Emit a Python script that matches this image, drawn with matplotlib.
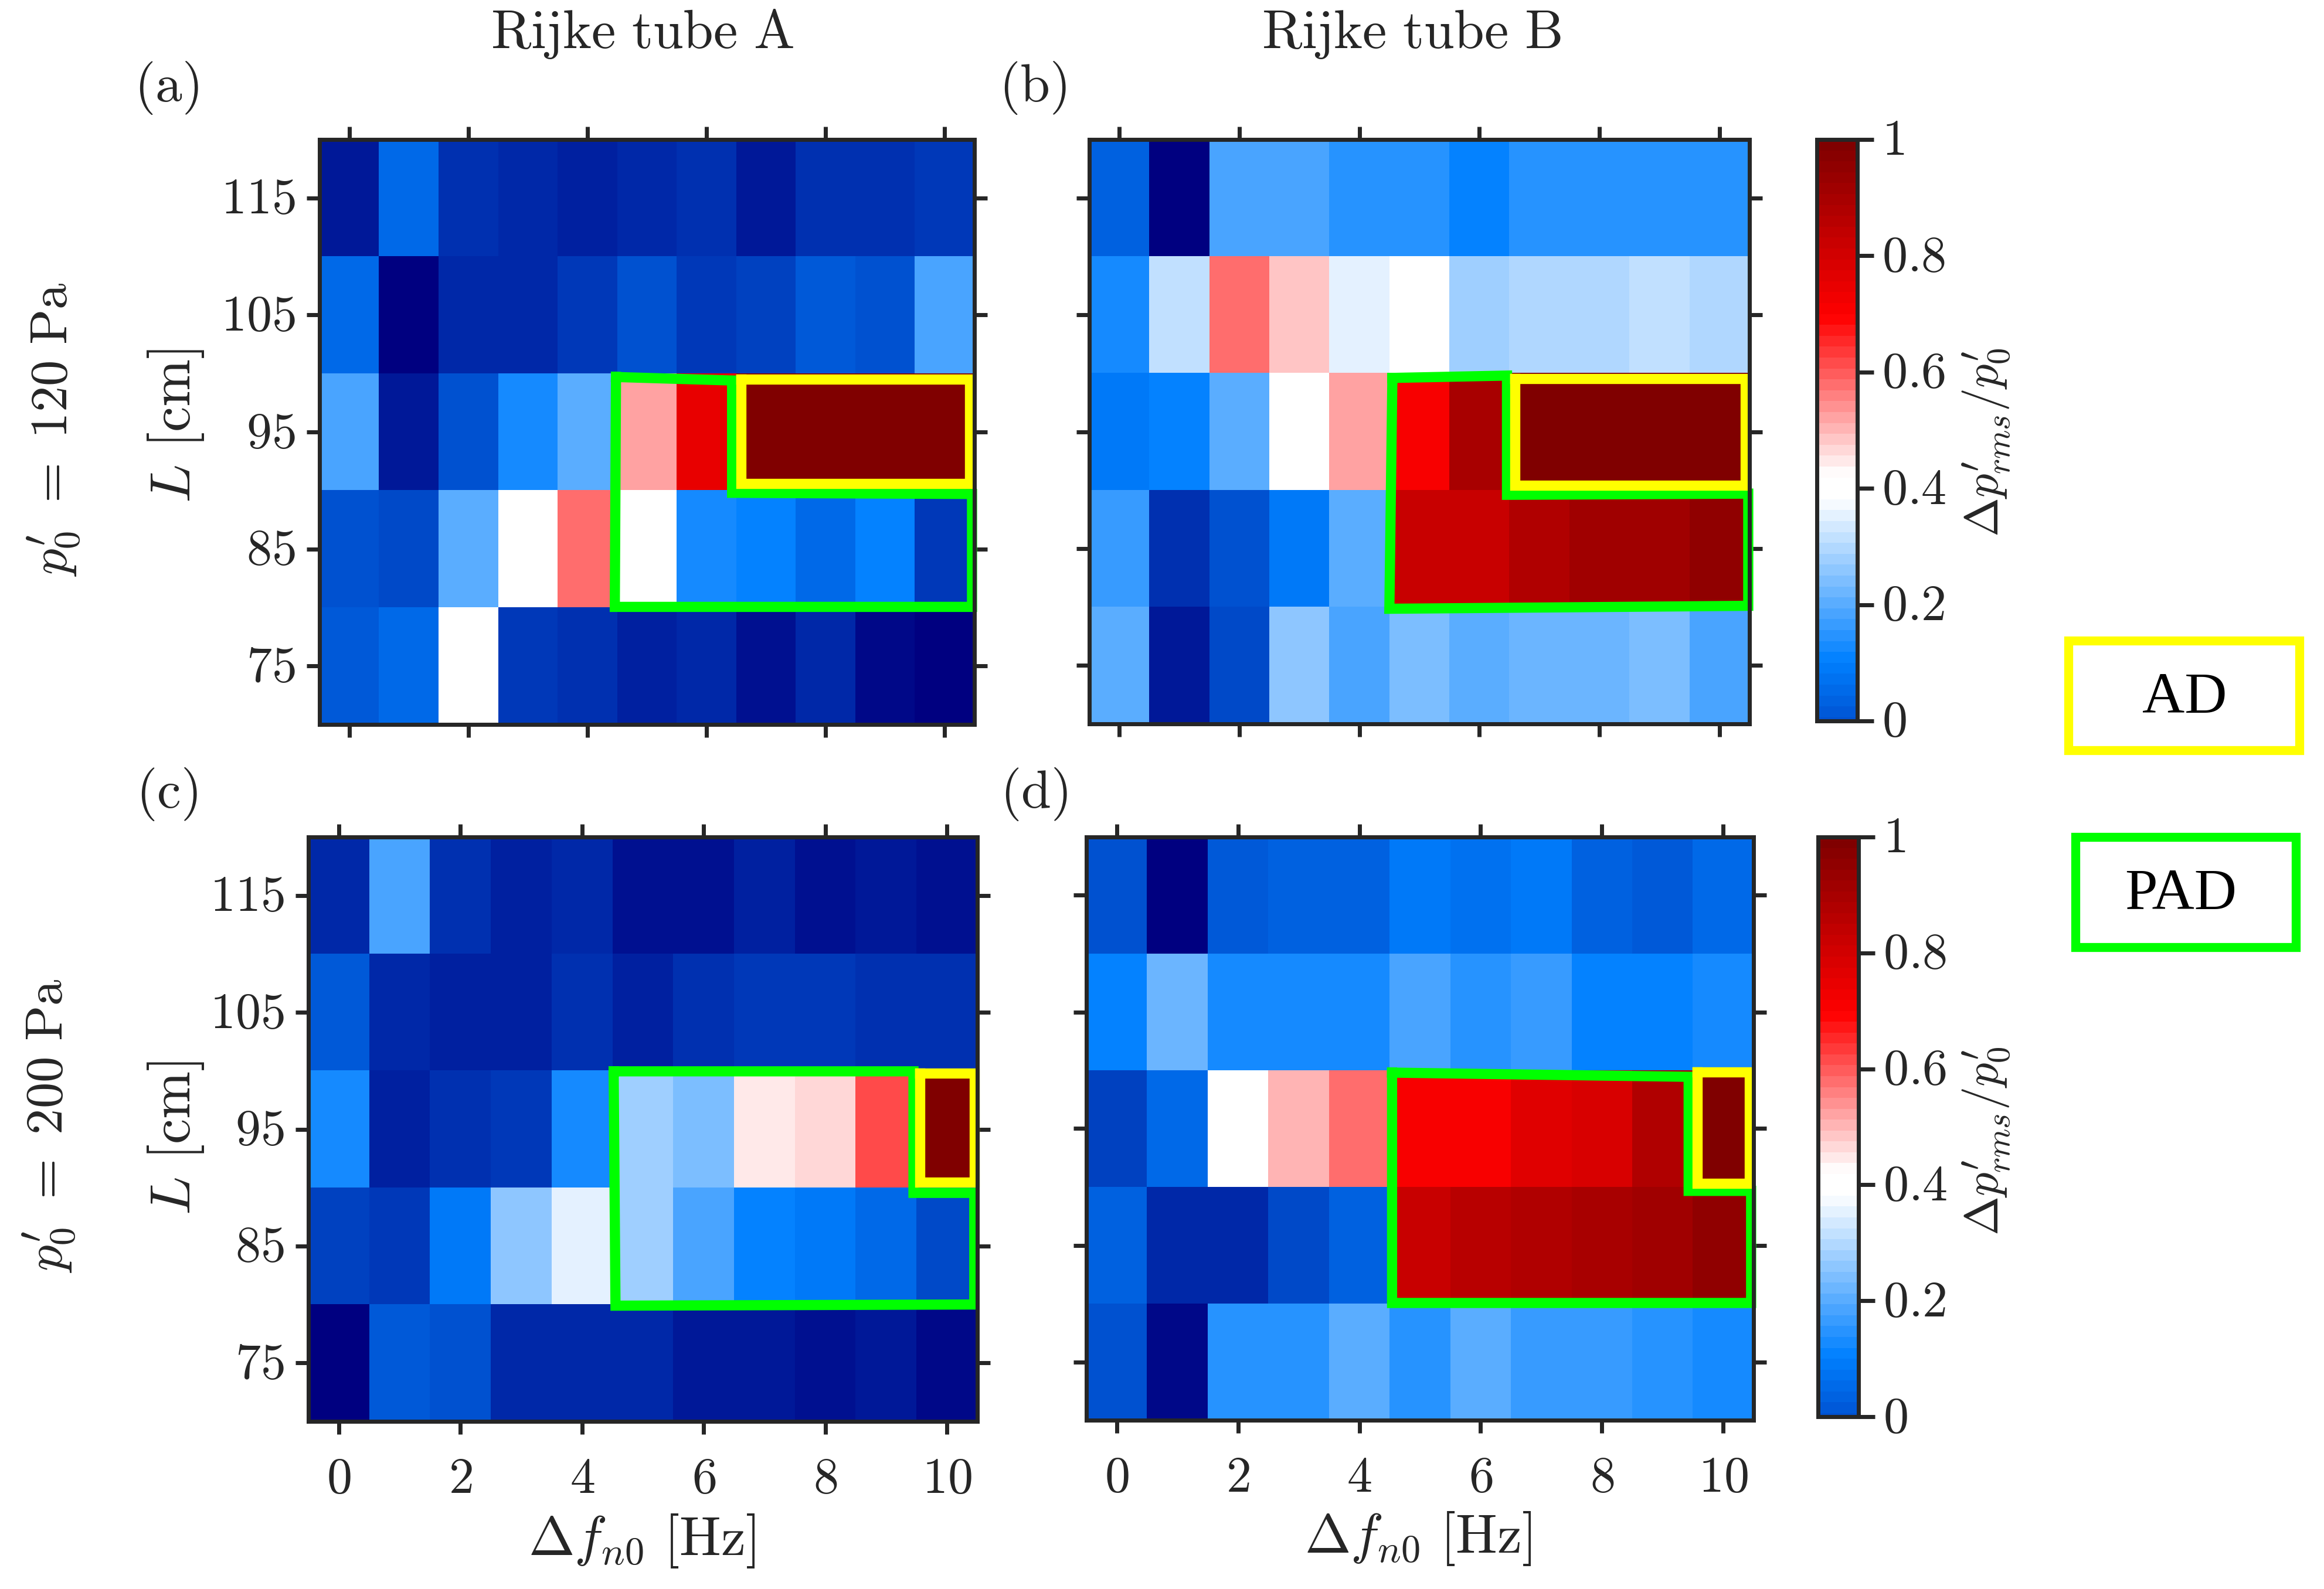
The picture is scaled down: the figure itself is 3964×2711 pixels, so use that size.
import numpy as np
import matplotlib
matplotlib.use('Agg')
import matplotlib.pyplot as plt
from matplotlib.colors import LinearSegmentedColormap
from matplotlib.patches import Rectangle
from matplotlib.transforms import ScaledTranslation

W, H = 3964, 2711
DARK = '#262626'

plt.rcParams['mathtext.fontset'] = 'cm'
plt.rcParams['font.family'] = 'DejaVu Sans'

lengths = [75, 85, 95, 105, 115]
detuning = [0, 1, 2, 3, 4, 5, 6, 7, 8, 9, 10]

# rows listed from L = 115 down to L = 75
amp_a = [
    [-0.14, 0.06, -0.08, -0.10, -0.12, -0.10, -0.07, -0.14, -0.08, -0.08, -0.06],
    [0.06, -0.20, -0.10, -0.10, -0.06, 0.00, -0.06, -0.05, 0.01, 0.00, 0.183],
    [0.183, -0.13, 0.00, 0.13, 0.20, 0.53, 0.75, 1.00, 1.00, 1.00, 1.00],
    [0.00, -0.02, 0.20, 0.40, 0.585, 0.40, 0.13, 0.10, 0.06, 0.10, -0.06],
    [0.01, 0.06, 0.40, -0.06, -0.08, -0.11, -0.10, -0.15, -0.10, -0.17, -0.20],
]
amp_b = [
    [0.03, -0.20, 0.183, 0.183, 0.15, 0.15, 0.105, 0.15, 0.15, 0.15, 0.15],
    [0.13, 0.31, 0.585, 0.478, 0.36, 0.40, 0.277, 0.294, 0.294, 0.31, 0.294],
    [0.09, 0.11, 0.20, 0.40, 0.516, 0.70, 0.89, 1.00, 1.00, 1.00, 1.00],
    [0.17, -0.07, -0.01, 0.09, 0.20, 0.83, 0.83, 0.87, 0.91, 0.91, 0.96],
    [0.20, -0.13, -0.03, 0.255, 0.183, 0.238, 0.20, 0.218, 0.218, 0.238, 0.18],
]
amp_c = [
    [-0.10, 0.183, -0.07, -0.11, -0.10, -0.15, -0.15, -0.12, -0.15, -0.14, -0.15],
    [0.01, -0.10, -0.12, -0.12, -0.08, -0.11, -0.08, -0.06, -0.06, -0.08, -0.08],
    [0.13, -0.12, -0.07, -0.06, 0.135, 0.277, 0.238, 0.445, 0.462, 0.62, 1.00],
    [-0.05, -0.06, 0.09, 0.255, 0.36, 0.277, 0.183, 0.10, 0.09, 0.06, -0.02],
    [-0.20, 0.01, 0.00, -0.10, -0.10, -0.10, -0.14, -0.13, -0.15, -0.13, -0.18],
]
amp_d = [
    [-0.01, -0.20, 0.01, 0.035, 0.035, 0.09, 0.07, 0.09, 0.035, 0.01, 0.045],
    [0.105, 0.218, 0.13, 0.13, 0.13, 0.183, 0.15, 0.165, 0.11, 0.11, 0.13],
    [-0.05, 0.06, 0.40, 0.50, 0.585, 0.70, 0.70, 0.77, 0.79, 0.87, 1.00],
    [0.025, -0.10, -0.10, -0.02, 0.025, 0.82, 0.86, 0.87, 0.90, 0.92, 0.96],
    [-0.01, -0.17, 0.15, 0.15, 0.20, 0.15, 0.20, 0.165, 0.165, 0.15, 0.135],
]

# hand drawn regions, (detuning, length) corners
pad_a = [(4.48, 99.7), (6.43, 99.4), (6.43, 89.8), (10.46, 89.7), (10.46, 80.05), (4.46, 80.05)]
pad_b = [(4.55, 99.6), (6.46, 99.8), (6.46, 89.6), (10.48, 89.7), (10.48, 80.1), (4.5, 79.85)]
pad_c = [(4.52, 99.95), (9.45, 99.95), (9.45, 89.55), (10.45, 89.55), (10.45, 80.0), (4.55, 79.9)]
pad_d = [(4.54, 99.8), (9.43, 99.44), (9.43, 89.66), (10.46, 89.66), (10.46, 80.05), (4.54, 80.05)]
ad_a = [(6.58, 99.5), (10.42, 99.5), (10.42, 90.6), (6.58, 90.6)]
ad_b = [(6.59, 99.55), (10.43, 99.55), (10.43, 90.4), (6.59, 90.4)]
ad_c = [(9.56, 99.8), (10.45, 99.8), (10.45, 90.45), (9.56, 90.45)]
ad_d = [(9.57, 99.85), (10.43, 99.85), (10.43, 90.3), (9.57, 90.3)]

# white plateau around 0.4 as in the original colorbar
cmap = LinearSegmentedColormap.from_list(
    'amp', [(0, '#000080'), (0.25, '#0080ff'), (0.485, '#ffffff'), (0.52, '#ffffff'),
            (0.75, '#ff0000'), (1, '#800000')], N=64)


def px_axes(fig, x0, y0, x1, y1):
    return fig.add_axes([x0 / W, 1 - y1 / H, (x1 - x0) / W, (y1 - y0) / H])


def px_text(fig, x, y, s, size, rotation=0, **kw):
    fig.text(x / W, 1 - y / H, s, fontsize=size, rotation=rotation,
             ha='center', va='center', color=DARK, **kw)


def nudge_labels(ax, fig):
    # mathtext labels sit a little low, move them up by 6 px
    shift = ScaledTranslation(0, 6 / 100, fig.dpi_scale_trans)
    for t in ax.get_yticklabels():
        t.set_transform(t.get_transform() + shift)


def draw_panel(fig, ax, amp, pad, ad, left_labels, bottom_labels):
    im = ax.imshow(amp, cmap=cmap, vmin=-0.2, vmax=1.0, aspect='auto',
                   interpolation='nearest', extent=[-0.5, 10.5, 70, 120])
    ax.set_xticks(detuning[::2])
    ax.set_yticks(lengths)
    ax.tick_params(direction='out', length=16, width=5, color=DARK, labelcolor=DARK,
                   labelsize=62, top=True, right=True, pad=14,
                   labelleft=left_labels, labelbottom=bottom_labels)
    ax.tick_params(axis='x', pad=25)
    ax.xaxis.set_major_formatter(lambda v, pos: f'${v:.0f}$')
    ax.yaxis.set_major_formatter(lambda v, pos: f'${v:.0f}$')
    nudge_labels(ax, fig)
    for sp in ax.spines.values():
        sp.set_linewidth(5)
        sp.set_color(DARK)
    px, py = zip(*(pad + pad[:1]))
    ax.plot(px, py, color='#00ff00', lw=12.5, clip_on=False, solid_joinstyle='miter')
    px, py = zip(*(ad + ad[:1]))
    ax.plot(px, py, color='#ffff00', lw=12.5, clip_on=False, solid_joinstyle='miter')
    ax.set_xlim(-0.5, 10.5)
    ax.set_ylim(70, 120)
    return im


def draw_cbar(fig, im, cax):
    cbar = fig.colorbar(im, cax=cax)
    cbar.ax.set_ylim(0, 1)
    cbar.set_ticks([0, 0.2, 0.4, 0.6, 0.8, 1])
    cbar.set_ticklabels(['$0$', '$0.2$', '$0.4$', '$0.6$', '$0.8$', '$1$'])
    cbar.ax.tick_params(direction='out', length=20, width=5, color=DARK, labelcolor=DARK,
                        labelsize=62, pad=10)
    nudge_labels(cbar.ax, fig)
    cbar.outline.set_linewidth(5)
    cbar.outline.set_edgecolor(DARK)


fig = plt.figure(figsize=(W / 100, H / 100), dpi=100, facecolor='white')

ax_a = px_axes(fig, 545, 238, 1662, 1236)
ax_b = px_axes(fig, 1858, 238, 2984, 1235)
ax_c = px_axes(fig, 526, 1428, 1667, 2425)
ax_d = px_axes(fig, 1853, 1428, 2991, 2423)

im_a = draw_panel(fig, ax_a, amp_a, pad_a, ad_a, True, False)
draw_panel(fig, ax_b, amp_b, pad_b, ad_b, False, False)
im_c = draw_panel(fig, ax_c, amp_c, pad_c, ad_c, True, True)
draw_panel(fig, ax_d, amp_d, pad_d, ad_d, False, True)

draw_cbar(fig, im_a, px_axes(fig, 3099, 238, 3168, 1230))
draw_cbar(fig, im_c, px_axes(fig, 3101, 1428, 3170, 2417))

# text placed by hand
px_text(fig, 1095, 58, r'$\mathrm{Rijke\ tube\ A}$', 67)
px_text(fig, 2407, 58, r'$\mathrm{Rijke\ tube\ B}$', 67)
px_text(fig, 284, 150, r'$\mathrm{(a)}$', 66)
px_text(fig, 1762, 150, r'$\mathrm{(b)}$', 66)
px_text(fig, 284, 1355, r'$\mathrm{(c)}$', 66)
px_text(fig, 1764, 1355, r'$\mathrm{(d)}$', 66)
px_text(fig, 300, 726, r'$L\ [\mathrm{cm}]$', 70, rotation=90)
px_text(fig, 300, 1941, r'$L\ [\mathrm{cm}]$', 70, rotation=90)
px_text(fig, 92, 733, r"$p_0^{\prime}\ =\ 120\ \mathrm{Pa}$", 64, rotation=90)
px_text(fig, 84, 1921, r"$p_0^{\prime}\ =\ 200\ \mathrm{Pa}$", 64, rotation=90)
px_text(fig, 1095, 2629, r'$\Delta f_{n0}\ [\mathrm{Hz}]$', 68)
px_text(fig, 2419, 2625, r'$\Delta f_{n0}\ [\mathrm{Hz}]$', 68)
px_text(fig, 3388, 755, r"$\Delta p_{rms}^{\prime}/p_0^{\prime}$", 58, rotation=90)
px_text(fig, 3388, 1947, r"$\Delta p_{rms}^{\prime}/p_0^{\prime}$", 58, rotation=90)

# legend boxes on the right
fig.add_artist(Rectangle((3528 / W, 1 - 1280 / H), 394 / W, 187 / H, transform=fig.transFigure,
                         fill=False, edgecolor='#ffff00', lw=11))
fig.add_artist(Rectangle((3540 / W, 1 - 1616 / H), 376 / W, 188 / H, transform=fig.transFigure,
                         fill=False, edgecolor='#00ff00', lw=11))
fig.text(3726 / W, 1 - 1192 / H, 'AD', fontsize=72, family='Liberation Serif',
         ha='center', va='center', color='black')
fig.text(3720 / W, 1 - 1527 / H, 'PAD', fontsize=72, family='Liberation Serif',
         ha='center', va='center', color='black')

fig.savefig('out.png', dpi=100, facecolor='white')
